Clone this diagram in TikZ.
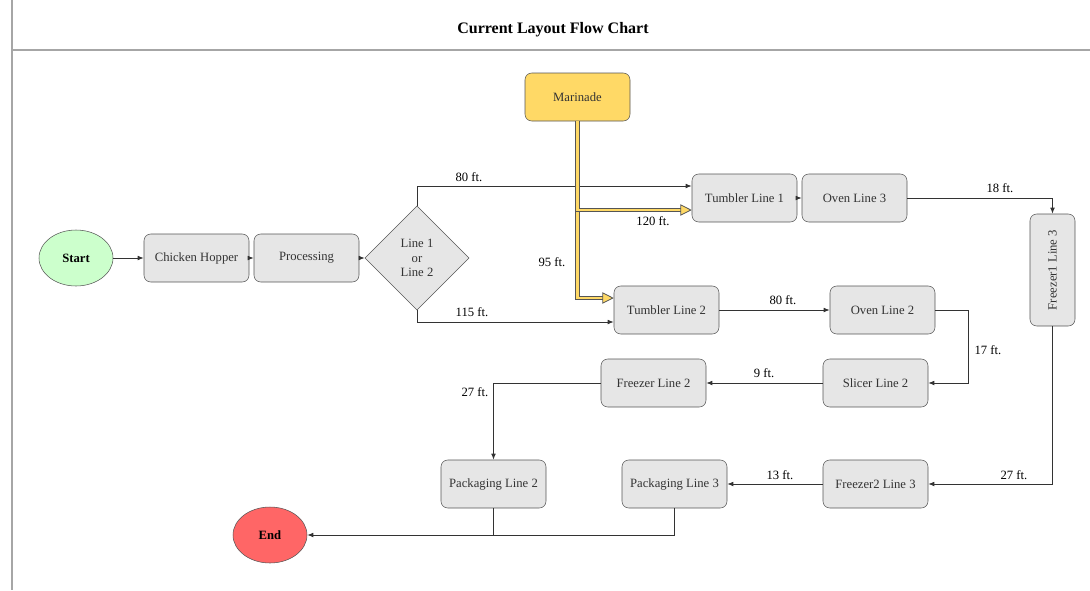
\documentclass[tikz,border=0pt]{standalone}
\usepackage{fontspec}
\setmainfont{Liberation Serif}
\usetikzlibrary{shapes.geometric,arrows.meta}
\definecolor{boxfill}{HTML}{E6E6E6}
\definecolor{boxline}{HTML}{555555}
\definecolor{inktext}{HTML}{333333}
\definecolor{startfill}{HTML}{CCFFCC}
\definecolor{endfill}{HTML}{FF6666}
\definecolor{marfill}{HTML}{FFD966}
\tikzset{
  stepbox/.style={draw=boxline,fill=boxfill,rounded corners=5pt,minimum width=78.75pt,minimum height=36pt,inner sep=1pt,text=inktext,font=\fontsize{9.5}{11}\selectfont},
  terminal/.style={ellipse,draw=boxline,minimum width=55.5pt,minimum height=42pt,inner sep=0pt,font=\bfseries\fontsize{9.5}{11}\selectfont},
  choice/.style={diamond,draw=boxline,fill=boxfill,minimum width=78pt,minimum height=78pt,aspect=1,inner sep=0pt,align=center,text=inktext,font=\fontsize{9.5}{11}\selectfont},
  dist/.style={inner sep=0.75pt,font=\fontsize{9.5}{11}\selectfont},
  flow/.style={draw=inktext,line width=0.6pt,-{Latex[length=4.5pt,width=3.5pt]}},
  feed/.style={draw=boxline,line width=0.6pt,double=marfill,double distance=2pt,-{Triangle[length=8.5pt,width=8.5pt,fill=marfill]}}
}
\begin{document}
\begin{tikzpicture}[x=0.75pt,y=0.75pt,yscale=-1,xscale=1]
\useasboundingbox (0,0) rectangle (1090,590);
\draw [gray!70,line width=0.8pt] (12,0) -- (12,590);
\draw [gray!70,line width=1pt] (12,50) -- (1090,50);
\node [font=\bfseries\fontsize{12}{14}\selectfont] (title) at (553,30) {Current Layout Flow Chart};
\node [terminal,fill=startfill] (start) at (76,258) {Start};
\node [stepbox] (hopper) at (196.5,258) {Chicken Hopper};
\node [stepbox] (proc) at (306.5,258) {Processing};
\node [choice] (dec) at (417,258) {Line 1\\or\\Line 2};
\node [stepbox,fill=marfill] (mar) at (577.5,97) {Marinade};
\node [stepbox] (tl1) at (744.5,198) {Tumbler Line 1};
\node [stepbox] (ov3) at (854.5,198) {Oven Line 3};
\node [stepbox,minimum width=33.75pt,minimum height=84pt] (fz1) at (1052.5,270) {\rotatebox{90}{Freezer1 Line 3}};
\node [stepbox] (tl2) at (666.5,310) {Tumbler Line 2};
\node [stepbox] (ov2) at (882.5,310) {Oven Line 2};
\node [stepbox] (sl2) at (875.5,383) {Slicer Line 2};
\node [stepbox] (fzl2) at (653.5,383) {Freezer Line 2};
\node [stepbox] (pk2) at (493.5,484) {Packaging Line 2};
\node [stepbox] (pk3) at (674.5,484) {Packaging Line 3};
\node [stepbox] (fz2) at (875.5,484) {Freezer2 Line 3};
\node [terminal,fill=endfill] (end) at (270,535) {End};
\draw [flow] (start) -- (hopper);
\draw [flow] (hopper) -- (proc);
\draw [flow] (proc) -- (dec);
\draw [flow] (dec.north) |- ([yshift=-9pt]tl1.west);
\draw [flow] (dec.south) |- ([yshift=9pt]tl2.west);
\draw [feed] (mar.south) |- ([yshift=-9pt]tl2.west);
\draw [feed] (mar.south) |- ([yshift=9pt]tl1.west);
\draw [flow] (tl1) -- (ov3);
\draw [flow] (ov3.east) -| (fz1.north);
\draw [flow] (fz1.south) |- (fz2.east);
\draw [flow] (fz2) -- (pk3);
\draw [flow] (tl2) -- (ov2);
\draw [flow] (ov2.east) -- ++(33,0) |- (sl2.east);
\draw [flow] (sl2) -- (fzl2);
\draw [flow] (fzl2.west) -| (pk2.north);
\draw [flow] (pk2.south) |- (end.east);
\draw [draw=inktext,line width=0.6pt] (pk3.south) |- (pk2.south |- end.east);
\node [dist] (d80a) at (469,177) {80 ft.};
\node [dist] (d120) at (653,221) {120 ft.};
\node [dist] (d95) at (552,262) {95 ft.};
\node [dist] (d115) at (472,312) {115 ft.};
\node [dist] (d18) at (1000,188) {18 ft.};
\node [dist] (d80b) at (783,300) {80 ft.};
\node [dist] (d17) at (988,350) {17 ft.};
\node [dist] (d9) at (764,373) {9 ft.};
\node [dist] (d27a) at (475,392) {27 ft.};
\node [dist] (d13) at (780,475) {13 ft.};
\node [dist] (d27b) at (1014,475) {27 ft.};
\end{tikzpicture}
\end{document}
